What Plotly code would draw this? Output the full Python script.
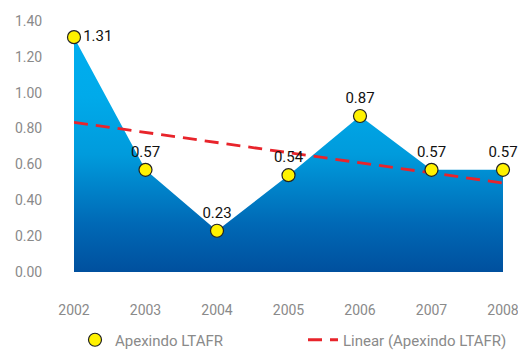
import numpy as np
import plotly.graph_objects as go

years = [2002, 2003, 2004, 2005, 2006, 2007, 2008]
ltafr = [1.31, 0.57, 0.23, 0.54, 0.87, 0.57, 0.57]
y_ticks = [0.0, 0.2, 0.4, 0.6, 0.8, 1.0, 1.2, 1.4]

series_name = "Apexindo LTAFR"
trend_name = "Linear (Apexindo LTAFR)"

# least-squares trend of the series
slope, intercept = np.polyfit(years, ltafr, 1)
trend = [slope * x + intercept for x in years]

font_family = "Roboto, Arial, sans-serif"
grey = "#8a8a8a"

fig = go.Figure()

# gradient-filled area under the series
fig.add_trace(go.Scatter(
    x=years, y=ltafr, mode="lines", line=dict(width=0, color="#00aeef"),
    fill="tozeroy",
    fillgradient=dict(
        type="vertical", start=0, stop=max(ltafr),
        colorscale=[[0, "#00509e"], [0.2, "#0068b5"], [0.5, "#009bdc"],
                    [0.75, "#00aaea"], [1, "#00aeef"]],
    ),
    showlegend=False, hoverinfo="skip",
))

# trend line
fig.add_trace(go.Scatter(
    x=years, y=trend, mode="lines", name=trend_name, legend="legend2",
    line=dict(color="#e8242b", width=2.8, dash="14px,8px"),
))

# markers with value labels
positions = ["middle right"] + ["top center"] * (len(years) - 1)
fig.add_trace(go.Scatter(
    x=years, y=ltafr, mode="markers+text", name=series_name, legend="legend",
    marker=dict(size=13, color="#fff200", line=dict(color="#222222", width=1.2)),
    text=[f"{v:.2f}" for v in ltafr], textposition=positions,
    textfont=dict(family=font_family, size=15, color="#111111"),
    cliponaxis=False,
))

legend_common = dict(
    orientation="h", xref="container", yref="container",
    xanchor="left", y=1 - 340 / 352, yanchor="middle",
    font=dict(family=font_family, size=15, color=grey),
    itemwidth=30, bgcolor="rgba(0,0,0,0)",
)

fig.update_layout(
    width=518, height=352,
    margin=dict(l=74, r=15, t=21, b=80, autoexpand=False),
    plot_bgcolor="white", paper_bgcolor="white",
    font=dict(family=font_family, size=14, color=grey),
    showlegend=True,
    legend=dict(legend_common, x=75 / 518),
    legend2=dict(legend_common, x=303 / 518),
    xaxis=dict(
        range=[years[0], years[-1]], tickvals=years, ticktext=[str(y) for y in years],
        showgrid=False, zeroline=False, showline=False,
        ticks="outside", ticklen=25, tickcolor="rgba(0,0,0,0)",
        tickfont=dict(color=grey, size=14), ticklabeloverflow="allow",
        automargin=False,
    ),
    yaxis=dict(
        range=[0, 1.4], tickvals=y_ticks, ticktext=[f"{v:.2f}" for v in y_ticks],
        showgrid=False, zeroline=False, showline=False,
        ticks="outside", ticklen=28, tickcolor="rgba(0,0,0,0)",
        tickfont=dict(color=grey, size=14), automargin=False,
    ),
)

fig.write_html("out.html")
